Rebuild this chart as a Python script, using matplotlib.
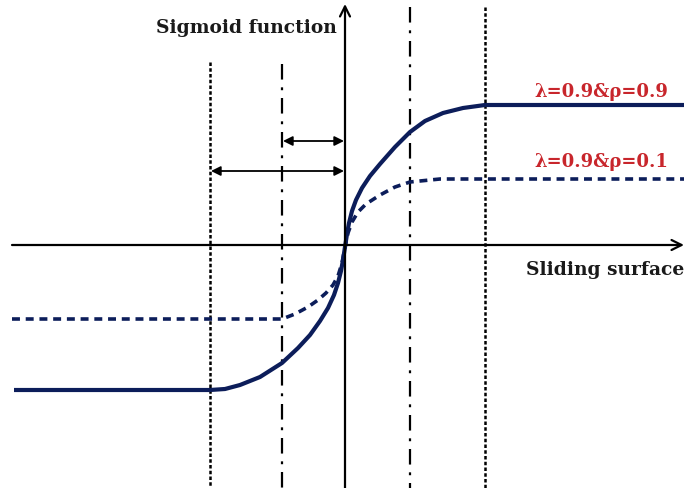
import matplotlib
matplotlib.use("Agg")
import matplotlib.pyplot as plt

# Coordinates are in canvas pixels (x to the right, y downward)
solid_x = [14, 210, 225, 240, 260, 282, 298, 310, 320, 328, 334, 338,
           341, 343, 345, 347, 349, 352, 356, 362, 370, 380, 395, 410,
           425, 443, 463, 485, 684]
solid_y = [391, 391, 390, 386, 378, 364, 349, 336, 322, 309, 296, 284,
           272, 261, 248, 235, 224, 212, 201, 189, 177, 165, 148, 133,
           122, 114, 109, 106, 106]

dotted_x = [12, 282, 295, 308, 318, 326, 333, 338, 342, 345, 348, 352,
            358, 366, 380, 395, 410, 440, 684]
dotted_y = [320, 320, 315, 308, 301, 294, 286, 277, 264, 248, 234, 223,
            213, 205, 196, 188, 183, 180, 180]

boundary_outer = [210, 485]
boundary_inner = [282, 410]
labels = ["λ=0.9&ρ=0.9", "λ=0.9&ρ=0.1"]

NAVY = "#0c1d5a"
RED = "#c8262c"
INK = "#1a1a1a"
SERIF = ["DejaVu Serif"]

fig = plt.figure(figsize=(6.84, 4.89), dpi=100)
ax = fig.add_axes([0, 0, 1, 1])
ax.set_xlim(0, 684)
ax.set_ylim(489, 0)
ax.axis("off")

# boundary layer lines
ax.plot([boundary_outer[0]] * 2, [63, 489], color="black", lw=1.8,
        linestyle=(0, (1.4, 0.9)))
ax.plot([boundary_outer[1]] * 2, [8, 489], color="black", lw=1.8,
        linestyle=(0, (1.4, 0.9)))
ax.plot([boundary_inner[0]] * 2, [65, 489], color="black", lw=1.6,
        linestyle=(0, (7, 3.5, 1.3, 3.5)))
ax.plot([boundary_inner[1]] * 2, [8, 489], color="black", lw=1.6,
        linestyle=(0, (7, 3.5, 1.3, 3.5)))

# coordinate axes
ax.annotate("", xy=(684, 246), xytext=(12, 246),
            arrowprops=dict(arrowstyle="->", lw=1.6, color="black",
                            mutation_scale=18, shrinkA=0, shrinkB=0))
ax.annotate("", xy=(345, 5), xytext=(345, 489),
            arrowprops=dict(arrowstyle="->", lw=1.6, color="black",
                            mutation_scale=18, shrinkA=0, shrinkB=0))

# width markers
ax.annotate("", xy=(283, 142), xytext=(344, 142),
            arrowprops=dict(arrowstyle="<|-|>", lw=1.3, color="black",
                            mutation_scale=14, shrinkA=0, shrinkB=0))
ax.annotate("", xy=(211, 172), xytext=(344, 172),
            arrowprops=dict(arrowstyle="<|-|>", lw=1.3, color="black",
                            mutation_scale=14, shrinkA=0, shrinkB=0))

# sigmoid curves
ax.plot(solid_x, solid_y, color=NAVY, lw=3.0, solid_capstyle="butt",
        solid_joinstyle="round")
ax.plot(dotted_x, dotted_y, color=NAVY, lw=2.6,
        linestyle=(0, (2.2, 1.6)), dash_capstyle="butt")

ax.text(337, 28, "Sigmoid function", ha="right", va="center",
        fontsize=13.4, fontweight="bold", family=SERIF, color=INK)
ax.text(684, 270, "Sliding surface", ha="right", va="center",
        fontsize=13.4, fontweight="bold", family=SERIF, color=INK)
ax.text(668, 92, labels[0], ha="right", va="center",
        fontsize=13, fontweight="bold", family=SERIF, color=RED)
ax.text(668, 162, labels[1], ha="right", va="center",
        fontsize=13, fontweight="bold", family=SERIF, color=RED)

fig.savefig("out.png", dpi=100)
